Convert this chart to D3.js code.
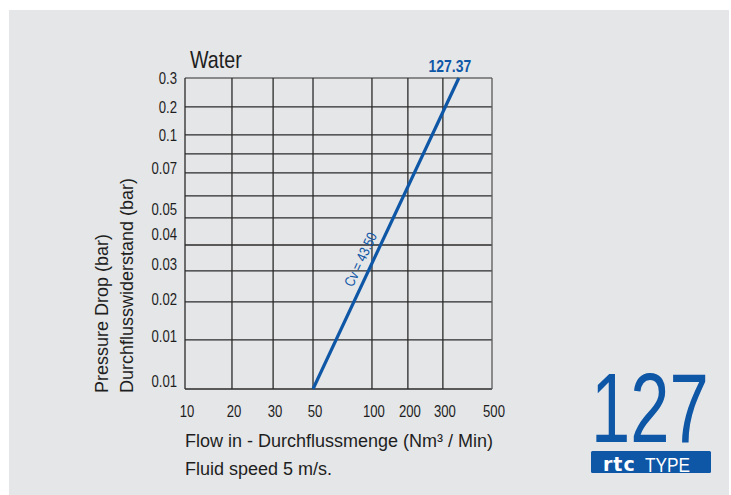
<!DOCTYPE html>
<html>
<head>
<meta charset="utf-8">
<script src="https://cdn.jsdelivr.net/npm/d3@7"></script>
<style>
  html, body { margin: 0; padding: 0; background: #ffffff; }
  svg { display: block; }
</style>
</head>
<body>
<svg id="chart" width="731" height="495"></svg>
<script>
// ---- data ----
const xTicks = [10, 20, 30, 50, 100, 200, 300, 500];
const gridRows = d3.range(12);
const yTickLabels = ["0.3", "0.2", "0.1", "0.07", "0.05", "0.04", "0.03", "0.02", "0.01", "0.01"];
const yTickRows = [0, 1, 2, 3.75, 5.6, 6.6, 7.75, 8.9, 9.9, 10.85];
const flowSeries = [50, 365];
const dropRowSeries = [11, 0];
const seriesLabel = "127.37";
const cvLabel = "Cv = 43.50";

// ---- layout ----
const W = 731, H = 495;
const plot = { left: 185, top: 78, width: 307, height: 311 };
const xFrac = [0, 0.153, 0.287, 0.417, 0.609, 0.726, 0.840, 1];
const yFrac = [0, 0.093, 0.183, 0.244, 0.305, 0.379, 0.450, 0.537, 0.620, 0.720, 0.842, 1];
const blue = "#0e56a6";
const ink = "#1e1e1e";
const sans = "'Liberation Sans', Arial, Helvetica, sans-serif";
const SQ = 0.82; // horizontal squeeze to imitate a condensed face

const svg = d3.select("#chart");

function narrowText(parent, x, y, size, anchor, str, extraRotate) {
  const rot = extraRotate ? ` rotate(${extraRotate})` : "";
  return parent.append("text")
    .attr("transform", `translate(${x},${y})${rot} scale(${SQ},1)`)
    .attr("text-anchor", anchor)
    .attr("font-family", sans).attr("font-size", size)
    .text(str);
}

// background panel
svg.append("rect").attr("x", 9).attr("y", 10).attr("width", W - 11).attr("height", H - 10)
  .attr("fill", "#e5e6e8");

const x = d3.scaleLinear().domain(xTicks).range(xFrac.map(f => plot.left + f * plot.width));
const y = d3.scaleLinear().domain(gridRows).range(yFrac.map(f => plot.top + f * plot.height));

// grid
const g = svg.append("g");
g.selectAll("line.h").data(gridRows).join("line")
  .attr("x1", plot.left).attr("x2", plot.left + plot.width)
  .attr("y1", d => y(d)).attr("y2", d => y(d))
  .attr("stroke", (d, i) => i === 0 ? "#6a6a6a" : "#2a2a2a").attr("stroke-width", 1.3);
g.selectAll("line.v").data(xTicks).join("line")
  .attr("y1", plot.top).attr("y2", plot.top + plot.height)
  .attr("x1", d => x(d)).attr("x2", d => x(d))
  .attr("stroke", (d, i) => i === xTicks.length - 1 ? "#5a5a5a" : "#2a2a2a").attr("stroke-width", 1.3);

// x tick labels
xTicks.forEach(v => {
  narrowText(svg, x(v) + 2, 416.5, 16, "middle", v).attr("fill", ink);
});

// y tick labels
yTickLabels.forEach((lab, i) => {
  narrowText(svg, 177, y(yTickRows[i]) + 5.7, 16, "end", lab).attr("fill", ink);
});

// series line
const pts = flowSeries.map((f, i) => [x(f), y(dropRowSeries[i])]);
svg.append("path")
  .attr("d", d3.line()(pts))
  .attr("fill", "none").attr("stroke", blue).attr("stroke-width", 3.2);

// series end label
narrowText(svg, pts[1][0] - 9, pts[1][1] - 6, 17, "middle", seriesLabel)
  .attr("font-weight", "bold").attr("fill", blue);

// Cv label along line
const ang = Math.atan2(pts[1][1] - pts[0][1], pts[1][0] - pts[0][0]) * 180 / Math.PI;
const t = 0.40;
const cx = pts[0][0] + t * (pts[1][0] - pts[0][0]);
const cy = pts[0][1] + t * (pts[1][1] - pts[0][1]);
const rad = ang * Math.PI / 180;
const off = 7;
const bx = cx + off * Math.sin(rad);
const by = cy - off * Math.cos(rad);
narrowText(svg, bx, by, 14.5, "middle", cvLabel, ang).attr("fill", blue);

// titles
narrowText(svg, 190, 67.7, 24, "start", "Water").attr("fill", ink);

svg.append("text").attr("x", 185).attr("y", 447)
  .attr("font-family", sans).attr("font-size", 18).attr("fill", ink)
  .text("Flow in - Durchflussmenge (Nm³ / Min)");
svg.append("text").attr("x", 185).attr("y", 475)
  .attr("font-family", sans).attr("font-size", 18).attr("fill", ink)
  .text("Fluid speed 5 m/s.");

svg.append("text").attr("transform", "translate(108,393) rotate(-90)")
  .attr("font-family", sans).attr("font-size", 18).attr("fill", ink)
  .text("Pressure Drop (bar)");
svg.append("text").attr("transform", "translate(133,393) rotate(-90)")
  .attr("font-family", sans).attr("font-size", 18).attr("fill", ink)
  .text("Durchflusswiderstand (bar)");

// logo
svg.append("text").attr("transform", "translate(591,441.7) scale(0.72,1)")
  .attr("font-family", sans).attr("font-size", 98).attr("fill", blue)
  .text("127");
svg.append("rect").attr("x", 591).attr("y", 451).attr("width", 120).attr("height", 22)
  .attr("rx", 1.5).attr("fill", blue);
svg.append("text").attr("x", 603).attr("y", 470.5)
  .attr("font-family", "'DejaVu Sans', sans-serif").attr("font-weight", "bold")
  .attr("font-size", 19).attr("letter-spacing", 1).attr("fill", "#ffffff")
  .text("rtc");
svg.append("text").attr("x", 645).attr("y", 471.5)
  .attr("font-family", sans).attr("font-size", 20.5).attr("fill", "#ffffff")
  .attr("textLength", 45).attr("lengthAdjust", "spacingAndGlyphs")
  .text("TYPE");
</script>
</body>
</html>
